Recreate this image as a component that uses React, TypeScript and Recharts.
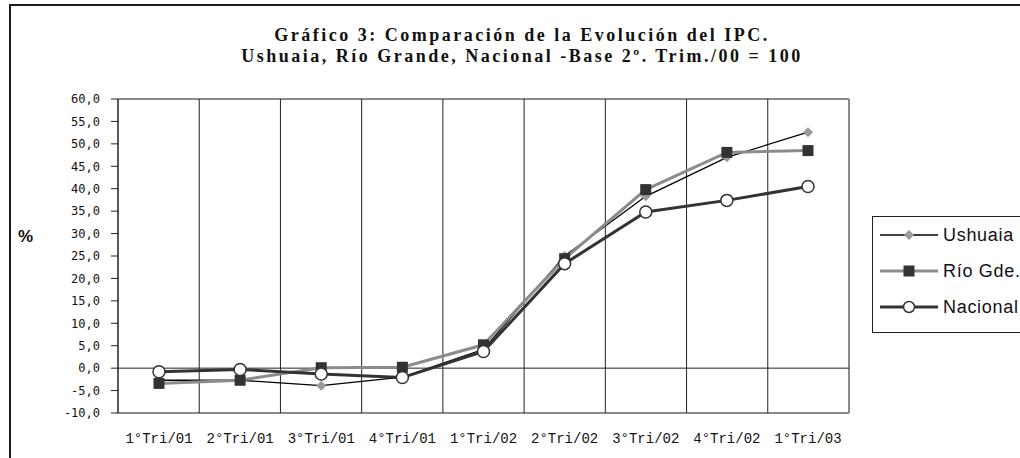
import React from "react"
import { LineChart, Line, XAxis, YAxis, CartesianGrid, ReferenceLine } from "recharts"

const categories = ["1°Tri/01", "2°Tri/01", "3°Tri/01", "4°Tri/01", "1°Tri/02", "2°Tri/02", "3°Tri/02", "4°Tri/02", "1°Tri/03"]
const ushuaia = [-2.7, -2.7, -3.9, -2.0, 4.2, 25.0, 38.3, 47.0, 52.6]
const rioGde = [-3.4, -2.7, 0.1, 0.2, 5.2, 24.4, 39.8, 48.1, 48.5]
const nacional = [-0.8, -0.3, -1.3, -2.1, 3.7, 23.3, 34.8, 37.4, 40.5]
const yTicks = [-10, -5, 0, 5, 10, 15, 20, 25, 30, 35, 40, 45, 50, 55, 60]

const data = categories.map((label, i) => ({
  label,
  ushuaia: ushuaia[i],
  rioGde: rioGde[i],
  nacional: nacional[i],
}))

const fmt = (v: number) => v.toFixed(1).replace(".", ",")

function DiamondDot(props: any) {
  const { cx, cy, index } = props
  if (cx == null || cy == null) return null
  return <path key={`d${index}`} d={`M${cx},${cy - 5}L${cx + 5},${cy}L${cx},${cy + 5}L${cx - 5},${cy}Z`} fill="#9a9a9a" />
}

function SquareDot(props: any) {
  const { cx, cy, index } = props
  if (cx == null || cy == null) return null
  return <rect key={`s${index}`} x={cx - 5.5} y={cy - 5.5} width={11} height={11} fill="#333" />
}

function CircleDot(props: any) {
  const { cx, cy, index } = props
  if (cx == null || cy == null) return null
  return <circle key={`c${index}`} cx={cx} cy={cy} r={6} fill="#fff" stroke="#333" strokeWidth={1.5} />
}

const legendItems = [
  { name: "Ushuaia", line: "#000", lw: 1.5, mark: "diamond" },
  { name: "Río Gde.", line: "#8c8c8c", lw: 3, mark: "square" },
  { name: "Nacional", line: "#333", lw: 3, mark: "circle" },
]

function LegendBox() {
  return (
    <div style={{ position: "absolute", left: 872, top: 216, border: "1px solid #222", background: "#fff", height: 117, width: 170, boxSizing: "border-box" }}>
      {legendItems.map((it) => (
        <div key={it.name} style={{ height: 36, display: "flex", alignItems: "center", paddingLeft: 7 }}>
          <svg width={58} height={14}>
            <line x1={0} y1={7} x2={58} y2={7} stroke={it.line} strokeWidth={it.lw} />
            {it.mark === "diamond" && <path d="M29,2L34,7L29,12L24,7Z" fill="#9a9a9a" />}
            {it.mark === "square" && <rect x={23.5} y={1.5} width={11} height={11} fill="#333" />}
            {it.mark === "circle" && <circle cx={29} cy={7} r={5.5} fill="#fff" stroke="#333" strokeWidth={1.5} />}
          </svg>
          <span style={{ marginLeft: 5, fontFamily: "'Liberation Sans', Arial, sans-serif", fontSize: 18, letterSpacing: 0.7, color: "#111", whiteSpace: "nowrap" }}>
            {it.name}
          </span>
        </div>
      ))}
    </div>
  )
}

export default function App() {
  const n = categories.length
  return (
    <div style={{ position: "absolute", left: 0, top: 0, width: 1020, height: 458, overflow: "hidden", background: "#fff" }}>
      <div style={{ position: "absolute", left: 9, top: 4, width: 1100, height: 500, borderLeft: "2px solid #1a1a1a", borderTop: "2px solid #1a1a1a" }} />
      <div
        style={{
          position: "absolute",
          left: 0,
          width: 1044,
          top: 25,
          textAlign: "center",
          fontFamily: "'Liberation Serif', 'Times New Roman', serif",
          fontWeight: "bold",
          fontSize: 18,
          letterSpacing: 2.5,
          lineHeight: "21px",
          color: "#111",
          whiteSpace: "nowrap",
        }}
      >
        <div>Gráfico 3: Comparación de la Evolución del IPC.</div>
        <div>Ushuaia, Río Grande, Nacional -Base 2º. Trim./00 = 100</div>
      </div>
      <div style={{ position: "absolute", left: 18, top: 227, fontFamily: "'Liberation Sans', Arial, sans-serif", fontWeight: "bold", fontSize: 17, color: "#111" }}>%</div>
      <LineChart width={1020} height={458} data={data} margin={{ top: 99, right: 171, bottom: 0, left: 67 }}>
        {/* gray frame of the plot area */}
        <CartesianGrid
          stroke="#8a8a8a"
          strokeWidth={2}
          horizontalCoordinatesGenerator={({ offset }: any) => [offset.top, offset.top + offset.height]}
          verticalCoordinatesGenerator={({ offset }: any) => [offset.left + offset.width]}
        />
        {/* dark separators between quarters */}
        <CartesianGrid
          horizontal={false}
          stroke="#222"
          strokeWidth={1}
          verticalCoordinatesGenerator={({ offset }: any) =>
            categories.slice(1).map((_, i) => offset.left + (offset.width * (i + 1)) / n)
          }
        />
        <ReferenceLine y={0} stroke="#222" strokeWidth={1} />
        <XAxis
          dataKey="label"
          height={45}
          padding={{ left: 41, right: 41 }}
          axisLine={false}
          tickLine={false}
          tickSize={0}
          tickMargin={20}
          interval={0}
          tick={{ fontSize: 14, fill: "#111", fontFamily: "'Liberation Mono', 'Courier New', monospace" }}
        />
        <YAxis
          width={51}
          domain={[-10, 60]}
          ticks={yTicks}
          interval={0}
          tickFormatter={fmt}
          axisLine={{ stroke: "#222", strokeWidth: 1.5 }}
          tickLine={{ stroke: "#222" }}
          tickSize={7}
          tickMargin={11}
          tick={{ fontSize: 12, fill: "#111", fontFamily: "'DejaVu Sans Mono', monospace" }}
        />
        <Line dataKey="ushuaia" name="Ushuaia" stroke="#000" strokeWidth={1.3} dot={DiamondDot} activeDot={false} isAnimationActive={false} />
        <Line dataKey="rioGde" name="Río Gde." stroke="#8c8c8c" strokeWidth={3} dot={SquareDot} activeDot={false} isAnimationActive={false} />
        <Line dataKey="nacional" name="Nacional" stroke="#333" strokeWidth={3} dot={CircleDot} activeDot={false} isAnimationActive={false} />
      </LineChart>
      <LegendBox />
    </div>
  )
}
